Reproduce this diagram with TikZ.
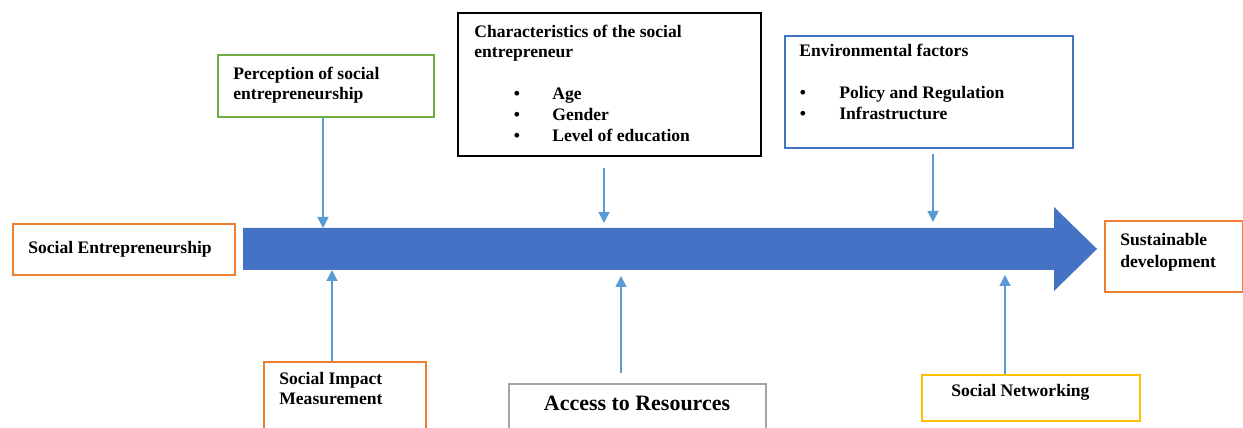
\documentclass[tikz,border=0pt]{standalone}
\usepackage{fontspec}
\setmainfont{Liberation Serif}
\usetikzlibrary{arrows.meta}
\definecolor{flowblue}{HTML}{4472C4}
\definecolor{linkblue}{HTML}{5B9BD5}
\definecolor{boxorange}{HTML}{ED7D31}
\definecolor{boxgreen}{HTML}{70AD47}
\definecolor{boxgray}{HTML}{A5A5A5}
\definecolor{boxgold}{HTML}{FFC000}
\begin{document}
\begin{tikzpicture}[x=0.02cm, y=-0.02cm,
    every node/.style={font=\fontsize{10}{11.6}\selectfont\bfseries},
    box/.style={draw=#1, line width=1.1pt, inner sep=0, anchor=north west},
    txt/.style={anchor=base west, inner sep=0, align=left},
    feed/.style={draw=linkblue, line width=0.85pt, -{Triangle[length=0.22cm, width=0.22cm]}}]
  \useasboundingbox (0,0) rectangle (1243,428);
  \clip (0,0) rectangle (1243,428);
  % the main flow arrow
  \fill[flowblue] (243,228) -- (1054,228) -- (1054,207) -- (1097,249) -- (1054,291)
    -- (1054,270) -- (243,270) -- cycle;
  \coordinate (in1) at (323,228);
  \coordinate (in2) at (604,223);
  \coordinate (in3) at (933,222);
  \coordinate (in4) at (332,270);
  \coordinate (in5) at (621,276);
  \coordinate (in6) at (1005,275);
  % boxes
  \node[box=boxorange, minimum width=4.44cm, minimum height=1.02cm] (social) at (12,223) {};
  \node[box=boxgreen, minimum width=4.32cm, minimum height=1.24cm] (percep) at (217,54) {};
  \node[box=black, minimum width=6.06cm, minimum height=2.86cm] (charac) at (457,12) {};
  \node[box=flowblue, minimum width=5.76cm, minimum height=2.24cm] (environ) at (784,35) {};
  \node[box=boxorange, minimum width=2.76cm, minimum height=1.42cm] (sustain) at (1104,220) {};
  \node[box=boxorange, minimum width=3.24cm, minimum height=2cm] (impact) at (263,361) {};
  \node[box=boxgray, minimum width=5.14cm, minimum height=1.6cm] (access) at (508,383) {};
  \node[box=boxgold, minimum width=4.36cm, minimum height=0.92cm] (network) at (921,374) {};
  % texts (base of a two-line node is its last line)
  \node[txt] (socialtxt) at (28,254) {Social Entrepreneurship};
  \node[txt] (perceptxt) at (233,100) {Perception of social\\entrepreneurship};
  \node[txt] (charactxt) at (474,58) {Characteristics of the social\\entrepreneur};
  \foreach \y/\lab [count=\n] in {100/Age, 121/Gender, 142/{Level of education}} {
    \node[txt, anchor=base] (cdot\n) at (517,\y) {\textbullet};
    \node[txt] (citem\n) at (552,\y) {\lab};
  }
  \node[txt] (environtxt) at (799,57) {Environmental factors};
  \foreach \y/\lab [count=\n] in {99/{Policy and Regulation}, 120/Infrastructure} {
    \node[txt, anchor=base] (edot\n) at (803,\y) {\textbullet};
    \node[txt] (eitem\n) at (839,\y) {\lab};
  }
  \node[txt, font=\fontsize{10}{13}\selectfont\bfseries] (sustaintxt) at (1120,268) {Sustainable\\development};
  \node[txt, font=\fontsize{10}{11}\selectfont\bfseries] (impacttxt) at (279,404) {Social Impact\\Measurement};
  \node[txt, anchor=base, font=\fontsize{12.5}{14}\selectfont\bfseries] (accesstxt) at (637,411) {Access to Resources};
  \node[txt] (networktxt) at (951,397) {Social Networking};
  % influences on the flow
  \draw[feed] (percep.south -| in1) -- (in1);
  \draw[feed, shorten <=0.22cm] (charac.south -| in2) -- (in2);
  \draw[feed, shorten <=0.1cm] (environ.south -| in3) -- (in3);
  \draw[feed] (impact.north -| in4) -- (in4);
  \draw[feed, shorten <=0.2cm] (access.north -| in5) -- (in5);
  \draw[feed] (network.north -| in6) -- (in6);
\end{tikzpicture}
\end{document}
